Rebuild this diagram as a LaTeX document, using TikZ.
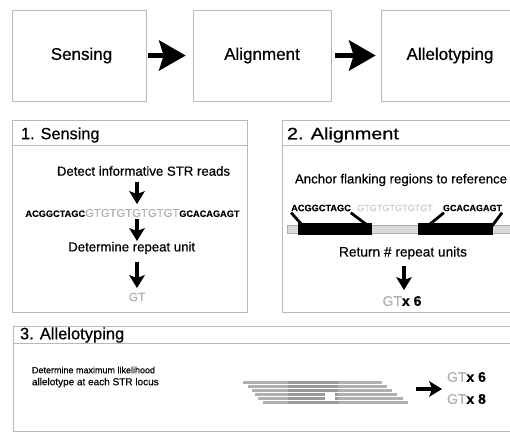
\documentclass[tikz,border=0pt]{standalone}
\usepackage{fontspec}
\setmainfont{Liberation Sans}[FakeBold=0.45]
\newfontfamily\widesans{Liberation Sans}[FakeStretch=1.2,FakeBold=0.45]
\usetikzlibrary{arrows.meta}

\newcommand{\fsz}[1]{\fontsize{#1}{#1}\selectfont}

\begin{document}
\begin{tikzpicture}[x=1pt,y=-1pt,
  frame/.style={draw=gray!55, line width=0.7pt, inner sep=0pt},
  stagebox/.style={frame, minimum height=91pt},
  panel/.style={frame},
  txt/.style={inner sep=0pt, outer sep=0pt},
  bigarr/.style={line width=5pt, -{Stealth[length=27pt,width=31pt,inset=5pt,line width=0pt]}},
  sarr/.style={line width=3.6pt, -{Stealth[length=13pt,width=16pt,inset=3pt,line width=0pt]}},
  legline/.style={line width=2.8pt},
  blackseg/.style={fill=black, inner sep=0pt, minimum height=12pt},
  readbar/.style={fill=gray!62},
  readcore/.style={fill=gray!80},
]
\clip (0,0) rectangle (510,433);
\fill[white] (0,0) rectangle (510,433);

% ---- pipeline overview ----
\node[stagebox, minimum width=134pt] (sense) at (79,55.5) {\fsz{17}\hspace{5pt}Sensing};
\node[stagebox, minimum width=138pt] (align) at (262,55.5) {\fsz{17}Alignment};
\node[stagebox, minimum width=138pt] (allelo) at (450,55.5) {\fsz{17}Allelotyping};
\draw[bigarr] ([xshift=2pt]sense.east) -- ([xshift=-7pt]align.west);
\draw[bigarr] ([xshift=4pt]align.east) -- ([xshift=-5pt]allelo.west);

% ---- panel 1: sensing ----
\node[panel, minimum width=235pt, minimum height=192pt] (p1) at (129.5,216) {};
\draw[gray!55, line width=0.7pt] (p1.west |- 0,145) -- (p1.east |- 0,145);
\node[txt, anchor=west] (t1) at (21,135) {\fsz{16.3}1. Sensing};

\node[txt] (detect) at (143.5,171) {\fsz{13.2}Detect informative STR reads};
\node[txt] (seq) at (132.5,213) {{\fsz{9.2}\bfseries ACGGCTAGC}{\fsz{11.3}\color{gray!60}GTGTGTGTGTGT}{\fsz{9.2}\bfseries GCACAGAGT}};
\node[txt] (detrep) at (131.7,248) {\fsz{13.2}Determine repeat unit};
\node[txt] (unit) at (137,297) {\fsz{12}\color{gray!60}GT};
\coordinate (ax1) at (137,0);
\draw[sarr] (ax1 |- 0,182) -- (ax1 |- 0,204);
\draw[sarr] (ax1 |- 0,219) -- (ax1 |- 0,241);
\draw[sarr] (ax1 |- 0,262) -- (ax1 |- 0,288);

% ---- panel 2: alignment ----
\node[panel, minimum width=248pt, minimum height=192pt] (p2) at (406,216) {};
\draw[gray!55, line width=0.7pt] (p2.west |- 0,145) -- (p2.east |- 0,145);
\node[txt, anchor=west] (t2) at (287,135) {\fsz{16.5}\widesans 2. Alignment};
\node[txt, anchor=west] (anchor) at (295,180) {\fsz{13.2}Anchor flanking regions to reference};

\node[txt] (flankL) at (321,208) {\fsz{9.2}\bfseries ACGGCTAGC};
\node[txt] (rep) at (395,208) {\fsz{9.1}\color{gray!40}GTGTGTGTGTGT};
\node[txt] (flankR) at (472.5,208) {\fsz{9}\bfseries GCACAGAGT};

\draw[fill=gray!30, draw=gray!65, line width=0.6pt] (287,225) rectangle (520,233);
\node[blackseg, minimum width=74pt] (seg1) at (335,229) {};
\node[blackseg, minimum width=75pt] (seg2) at (455.5,229) {};
\draw[legline] ([yshift=-1.5pt]flankL.south west) -- ([xshift=5pt,yshift=-3pt]seg1.north west);
\draw[legline] ([yshift=-1.5pt]flankL.south east) -- ([xshift=-4pt,yshift=-3pt]seg1.north east);
\draw[legline] ([xshift=1pt,yshift=-1.5pt]flankR.south west) -- ([xshift=10pt,yshift=-3pt]seg2.north west);
\draw[legline] ([yshift=-1.5pt]flankR.south east) -- ([xshift=-1pt,yshift=-3pt]seg2.north east);

\node[txt] (count) at (403,253) {\fsz{13.7}Return \# repeat units};
\node[txt] (gt6a) at (402,301) {\fsz{14}{\color{gray!60}GT}\bfseries x 6};
\coordinate (ax2) at (404,0);
\draw[sarr] (ax2 |- 0,266) -- (ax2 |- 0,290);

% ---- panel 3: allelotyping ----
\node[panel, minimum width=517pt, minimum height=105.5pt] (p3) at (271.5,378.75) {};
\draw[gray!55, line width=0.7pt] (p3.west |- 0,343) -- (p3.east |- 0,343);
\node[txt, anchor=west] (t3) at (20,335) {\fsz{16.5}3. Allelotyping};
\node[txt, anchor=west, align=left] (mle) at (32,377) {\fontsize{9}{10}\selectfont Determine maximum likelihood\\allelotype at each STR locus};

% stacked reads over the locus, each read a separate strip
\foreach \xa/\xb/\ya in {243/382/380, 248/387/384, 252/392/388, 255/397/392, 258/403/396, 263/408/400}{
  \fill[readbar] (\xa,\ya+0.5) rectangle (\xb,\ya+3.6);
  \fill[readcore] (288,\ya+0.5) rectangle (338,\ya+3.6);
}
\fill[white] (325,391.5) rectangle (335,400.5);

\coordinate (stackend) at (416,389);
\coordinate (fork) at (442,389);
\draw[sarr] (stackend) -- (fork);
\node[txt, anchor=west] (gt6b) at (447,377) {\fsz{14}{\color{gray!60}GT}\bfseries x 6};
\node[txt, anchor=west] (gt8) at (447,399) {\fsz{14}{\color{gray!60}GT}\bfseries x 8};
\end{tikzpicture}
\end{document}
